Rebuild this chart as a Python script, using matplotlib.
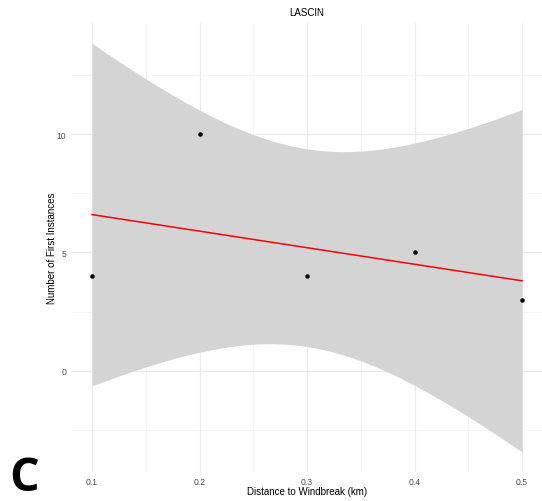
import numpy as np
import matplotlib
matplotlib.use("Agg")
import matplotlib.pyplot as plt
from matplotlib.ticker import MultipleLocator

# data
distance_km = np.array([0.1, 0.2, 0.3, 0.4, 0.5])
first_instances = np.array([4, 10, 4, 5, 3])
t_975_df3 = 3.182446  # t quantile for 95% CI, n-2 = 3 dof

# linear fit + confidence band (like geom_smooth(method="lm"))
n = len(distance_km)
slope, intercept = np.polyfit(distance_km, first_instances, 1)
x_fit = np.linspace(distance_km.min(), distance_km.max(), 200)
y_fit = intercept + slope * x_fit
resid = first_instances - (intercept + slope * distance_km)
s = np.sqrt(np.sum(resid ** 2) / (n - 2))
sxx = np.sum((distance_km - distance_km.mean()) ** 2)
se = s * np.sqrt(1 / n + (x_fit - distance_km.mean()) ** 2 / sxx)
lower = y_fit - t_975_df3 * se
upper = y_fit + t_975_df3 * se

plt.rcParams['font.family'] = ['Liberation Sans', 'DejaVu Sans']

fig = plt.figure(figsize=(5.42, 5.02), dpi=100)
ax = fig.add_axes([0.1301, 0.0568, 0.8727, 0.8956])

ax.fill_between(x_fit, lower, upper, color="#d4d4d4", linewidth=0, zorder=2)
ax.plot(x_fit, y_fit, color="#ff0000", linewidth=1.1, zorder=3)
ax.scatter(distance_km, first_instances, s=5, color="black", zorder=4)

xr = distance_km.max() - distance_km.min()
ax.set_xlim(distance_km.min() - 0.05 * xr, distance_km.max() + 0.05 * xr)
yr = upper.max() - lower.min()
ax.set_ylim(lower.min() - 0.05 * yr, upper.max() + 0.05 * yr)

ax.set_xticks([0.1, 0.2, 0.3, 0.4, 0.5])
ax.set_xticklabels(["0.1", "0.2", "0.3", "0.4", "0.5"])
ax.set_yticks([0, 5, 10])
ax.xaxis.set_minor_locator(MultipleLocator(0.05))
ax.yaxis.set_minor_locator(MultipleLocator(2.5))

ax.grid(which="major", color="#ebebeb", linewidth=0.9, zorder=0)
ax.grid(which="minor", color="#f3f3f3", linewidth=0.5, zorder=0)
ax.set_axisbelow(True)
for sp in ax.spines.values():
    sp.set_visible(False)
ax.tick_params(which="both", length=0, labelsize=6.2, labelcolor="#4d4d4d", pad=3)

ax.set_title("LASCIN", fontsize=7, pad=5.5)
ax.set_xlabel("Distance to Windbreak (km)", fontsize=7)
ax.set_ylabel("Number of First Instances", fontsize=7)
ax.yaxis.set_label_coords(-0.0296, 0.5)
ax.xaxis.set_label_coords(0.5, -0.030)

fig.text(0.017, 0.0, "C", fontsize=33.5, fontweight="bold",
         family=["Open Sans", "DejaVu Sans"], ha="left", va="bottom")

fig.savefig("out.png", dpi=100)
